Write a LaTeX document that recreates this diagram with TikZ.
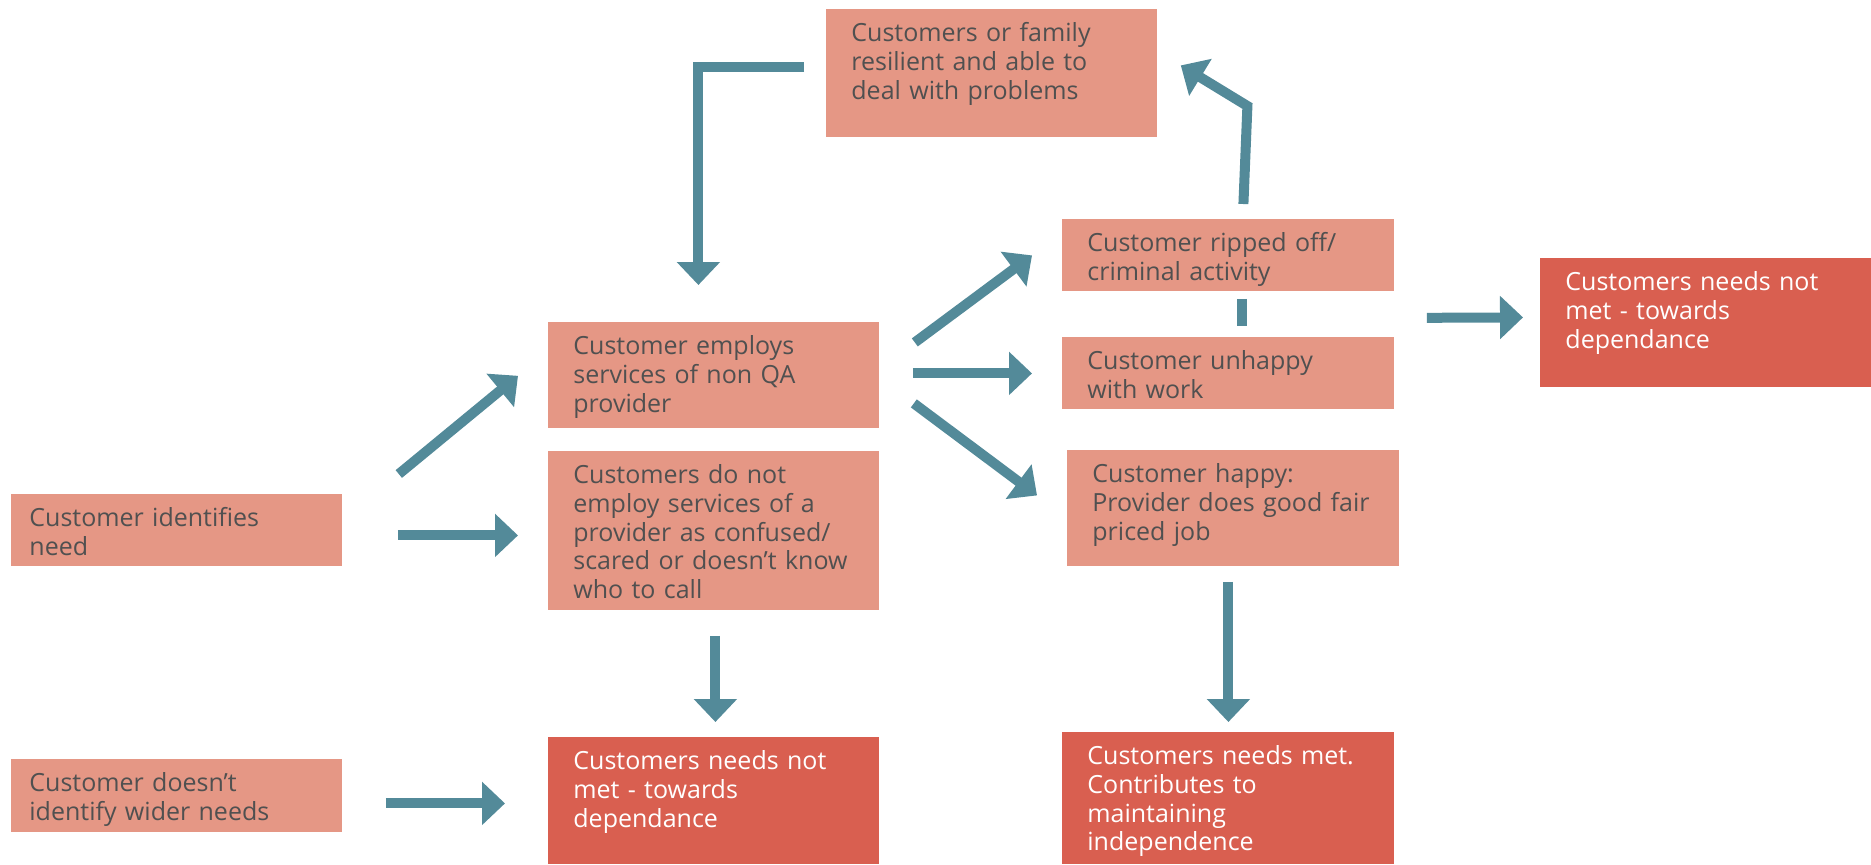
\documentclass[tikz,border=0pt]{standalone}
\usepackage{fontspec}
\setmainfont{Open Sans}
\usetikzlibrary{arrows.meta}
\definecolor{salmon}{RGB}{229,151,133}
\definecolor{brick}{RGB}{217,95,80}
\definecolor{flowblue}{RGB}{83,138,153}
\definecolor{txtgray}{RGB}{80,80,80}
\tikzset{
  box/.style={anchor=north west, fill=salmon, text=txtgray, inner xsep=12.5pt, inner ysep=0pt,
    text width=140.5pt, align=left, font=\fontsize{12.5}{14.4}\selectfont, text height=16pt},
  sidebox/.style={box, inner xsep=9pt, text width=147.5pt},
  redbox/.style={box, fill=brick, text=white},
  flow/.style={draw=flowblue, line width=5pt, -{Triangle[length=11.5pt,width=21pt]}},
}
\begin{document}
\begin{tikzpicture}[x=0.5pt,y=-0.5pt]
    \useasboundingbox (0,0) rectangle (1871,864);
    % boxes
    \node[sidebox, text depth=20pt] (need) at (11,494) {Customer identifies\\need};
    \node[sidebox, text depth=20.5pt] (wider) at (11,759) {Customer doesn’t\\identify wider needs};
    \node[box, text depth=37pt] (employ) at (548,322) {Customer employs\\services of non QA\\provider};
    \node[box, text depth=63.5pt] (noemploy) at (548,451) {Customers do not\\employ services of a\\provider as confused/\\scared or doesn’t know\\who to call};
    \node[redbox, text depth=47.5pt] (notmet) at (548,737) {Customers needs not\\met - towards\\dependance};
    \node[box, text depth=48pt] (resilient) at (826,9) {Customers or family\\resilient and able to\\deal with problems};
    \node[box, text width=141pt, text depth=20pt] (ripped) at (1062,219) {Customer ripped off/\\criminal activity};
    \node[box, text width=141pt, text depth=20pt] (unhappy) at (1062,337) {Customer unhappy\\with work};
    \node[box, text width=141pt, text depth=42pt] (happy) at (1067,450) {Customer happy:\\Provider does good fair\\priced job};
    \node[redbox, text depth=48.5pt] (notmetright) at (1540,258) {Customers needs not\\met - towards\\dependance};
    \node[redbox, text width=141pt, text depth=50pt] (met) at (1062,732) {Customers needs met.\\Contributes to\\maintaining\\independence};
    % arrows
    \draw[flow] ([shift={(56,-20)}]need.north east) -- ([shift={(-30,-53)}]employ.south west);
    \draw[flow] ([shift={(55,5)}]need.east) -- ([shift={(-30,4.5)}]noemploy.west);
    \draw[flow] ([shift={(43,7.5)}]wider.east) -- ([shift={(-43,2.5)}]notmet.west);
    \draw[flow] ([shift={(1.5,25)}]noemploy.south) -- ([shift={(1.5,-15)}]notmet.north);
    \draw[flow] ([shift={(-22,-6)}]resilient.west) -| ([shift={(-15.5,-37)}]employ.north);
    \draw[flow] ([shift={(35,-33)}]employ.east) -- ([shift={(-30,0)}]ripped.west);
    \draw[flow] ([shift={(33,-2)}]employ.east) -- ([shift={(-30,0)}]unhappy.west);
    \draw[flow] ([shift={(34,28)}]employ.east) -- ([shift={(-30,-13)}]happy.west);
    \draw[flow] ([shift={(15,-15)}]ripped.north) -- ([shift={(19,-113)}]ripped.north) -- ([shift={(23,-8)}]resilient.east);
    \draw[draw=flowblue, line width=5pt] ([shift={(14,7)}]ripped.south) -- ([shift={(14,-11)}]unhappy.north);
    \draw[flow] ([shift={(32,26)}]ripped.south east) -- ([shift={(-17,-5.5)}]notmetright.west);
    \draw[flow] ([shift={(-5,15)}]happy.south) -- ([shift={(0,-10)}]met.north);
\end{tikzpicture}
\end{document}
